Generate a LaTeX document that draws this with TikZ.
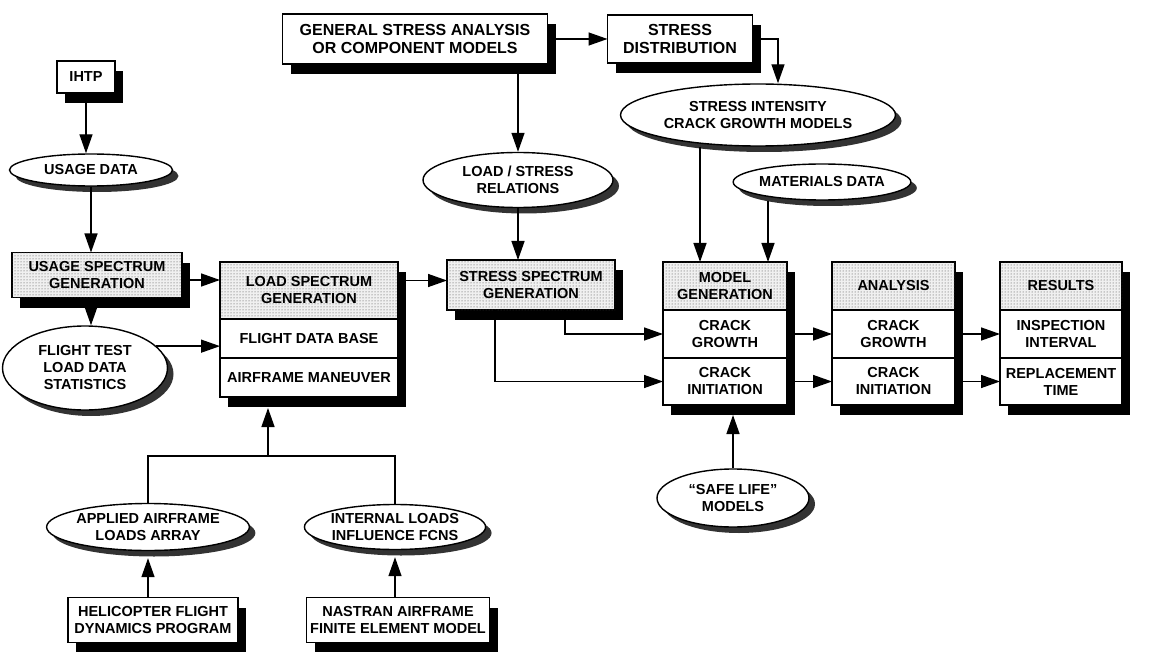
\documentclass[tikz,border=0pt]{standalone}
\usepackage{fontspec}
\setmainfont{Liberation Sans}
\usetikzlibrary{shapes.geometric,shadows,arrows.meta,backgrounds,patterns,positioning}
\begin{document}
\begin{tikzpicture}[x=1pt,y=-1pt,
  box/.style={draw, line width=1.4pt, fill=white, inner sep=0pt, outer sep=0pt, align=center, font=\fontsize{14.5}{17}\selectfont\bfseries},
  big/.style={font=\fontsize{16}{18.5}\selectfont\bfseries},
  bshadow/.style={drop shadow={shadow xshift=8pt, shadow yshift=-10pt, fill=black, opacity=1}},
  hdr/.style={box, fill=black!6, postaction={pattern=dots, pattern color=black!75}},
  oval/.style={ellipse, draw, line width=1.4pt, fill=white, inner sep=0pt, align=center, font=\fontsize{14.5}{17}\selectfont\bfseries, drop shadow={shadow xshift=6pt, shadow yshift=-6pt, fill=black!80, opacity=1}},
  arr/.style={line width=1.4pt, -{Triangle[length=19pt,width=13pt]}},
  ln/.style={line width=1.4pt}]
\useasboundingbox (0,0) rectangle (1150,652);
\node[box, bshadow, minimum width=58pt, minimum height=32pt] (ihtp) at (86,77) {IHTP};
\node[oval, minimum width=163pt, minimum height=32pt] (usage) at (91,170) {USAGE DATA};
\node[hdr, bshadow, minimum width=170pt, minimum height=45pt] (usg) at (97,275) {USAGE SPECTRUM\\GENERATION};
\node[oval, minimum width=165pt, minimum height=84pt] (flt) at (85,368) {FLIGHT TEST\\LOAD DATA\\STATISTICS};
\node[hdr, minimum width=178pt, minimum height=57pt] (lsg) at (309,290.5) {LOAD SPECTRUM\\GENERATION};
\node[box, minimum width=178pt, minimum height=39pt, below=0pt of lsg] (lsf) {FLIGHT DATA BASE};
\node[box, minimum width=178pt, minimum height=39pt, below=0pt of lsf] (lsm) {AIRFRAME MANEUVER};
\node[box, big, bshadow, minimum width=265pt, minimum height=50pt] (gsa) at (415,39) {GENERAL STRESS ANALYSIS\\OR COMPONENT MODELS};
\node[box, big, bshadow, minimum width=145pt, minimum height=48pt] (sd) at (680,39) {STRESS\\DISTRIBUTION};
\node[oval, minimum width=190pt, minimum height=55pt] (lsr) at (518,180) {LOAD / STRESS\\RELATIONS};
\node[hdr, bshadow, minimum width=168pt, minimum height=50pt] (ssg) at (531,285) {STRESS SPECTRUM\\GENERATION};
\node[oval, minimum width=275pt, minimum height=62pt] (sic) at (758,115) {STRESS INTENSITY\\CRACK GROWTH MODELS};
\node[oval, minimum width=165pt, minimum height=36pt] (mat) at (822,182) {MATERIALS DATA};
\node[hdr, minimum width=124pt, minimum height=48pt] (mg) at (725,286) {MODEL\\GENERATION};
\node[box, minimum width=124pt, minimum height=48pt, below=0pt of mg] (mcg) {CRACK\\GROWTH};
\node[box, minimum width=124pt, minimum height=47pt, below=0pt of mcg] (mci) {CRACK\\INITIATION};
\node[hdr, minimum width=123pt, minimum height=48pt] (ag) at (893.5,286) {ANALYSIS};
\node[box, minimum width=123pt, minimum height=48pt, below=0pt of ag] (acg) {CRACK\\GROWTH};
\node[box, minimum width=123pt, minimum height=47pt, below=0pt of acg] (aci) {CRACK\\INITIATION};
\node[hdr, minimum width=122pt, minimum height=48pt] (rg) at (1061,286) {RESULTS};
\node[box, minimum width=122pt, minimum height=48pt, below=0pt of rg] (rii) {INSPECTION\\INTERVAL};
\node[box, minimum width=122pt, minimum height=47pt, below=0pt of rii] (rrt) {REPLACEMENT\\TIME};
\node[oval, minimum width=152pt, minimum height=58pt] (safe) at (733,498) {``SAFE LIFE''\\MODELS};
\node[oval, minimum width=201pt, minimum height=47pt] (app) at (148,527) {APPLIED AIRFRAME\\LOADS ARRAY};
\node[oval, minimum width=175pt, minimum height=45pt] (intl) at (395,527) {INTERNAL LOADS\\INFLUENCE FCNS};
\node[box, bshadow, minimum width=170pt, minimum height=45pt] (heli) at (153,620) {HELICOPTER FLIGHT\\DYNAMICS PROGRAM};
\node[box, bshadow, minimum width=183pt, minimum height=45pt] (nas) at (398,620) {NASTRAN AIRFRAME\\FINITE ELEMENT MODEL};
\begin{scope}[on background layer]
\foreach \a/\b in {lsg/lsm, mg/mci, ag/aci, rg/rrt}
  \fill ([shift={(8,10)}]\a.north west) rectangle ([shift={(8,10)}]\b.south east);
\end{scope}
\coordinate (jn) at (268,456);
\draw[arr] (ihtp.south) -- (ihtp.south |- usage.north);
\draw[arr] (usage.south) -- (usage.south |- usg.north);
\draw[arr] (usg.south -| usage.south) -- (flt.north -| usage.south);
\draw[arr] ([yshift=-5pt]usg.east) -- ([yshift=-5pt]usg.east -| lsg.west);
\draw[arr] (flt.17) -- (flt.17 -| lsf.west);
\draw[arr] ([yshift=10pt]lsg.east) -- ([yshift=10pt]lsg.east -| ssg.west);
\draw[arr] (gsa.east) -- (sd.west);
\draw[arr] (lsr.north |- gsa.south) -- (lsr.north);
\draw[arr] (sd.east) -| ([xshift=20pt]sic.north);
\draw[arr] (lsr.south) -- (lsr.south |- ssg.north);
\draw[arr] ([xshift=-25pt]mg.north |- sic.south) -- ([xshift=-25pt]mg.north);
\draw[arr] ([xshift=43pt]mg.north |- mat.south) -- ([xshift=43pt]mg.north);
\draw[arr] ([xshift=34pt]ssg.south) |- (mcg.west);
\draw[arr] ([xshift=-36pt]ssg.south) |- (mci.west);
\draw[arr] (mcg.east) -- (acg.west);
\draw[arr] (mci.east) -- (aci.west);
\draw[arr] (acg.east) -- (rii.west);
\draw[arr] (aci.east) -- (rrt.west);
\draw[arr] (safe.north) -- ([yshift=-10pt]safe.north |- mci.south);
\draw[ln] (app.north) |- (jn) -| (intl.north);
\draw[arr] (jn) -- ([yshift=-11pt]jn |- lsm.south);
\draw[arr] (app.south |- heli.north) -- ([yshift=-7pt]app.south);
\draw[arr] (intl.south |- nas.north) -- ([yshift=-7pt]intl.south);
\end{tikzpicture}
\end{document}
